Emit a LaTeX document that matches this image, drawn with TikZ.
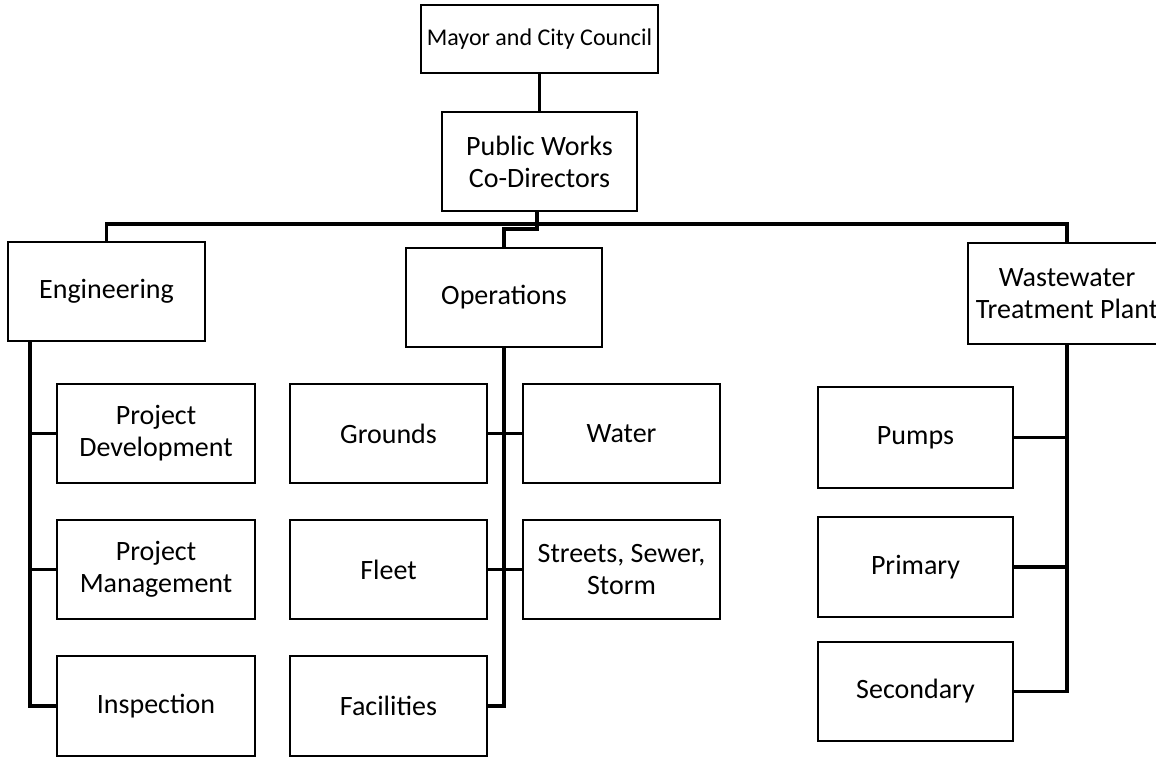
\documentclass[tikz,border=0pt]{standalone}
\usepackage{fontspec}
\setmainfont{Carlito}
\usetikzlibrary{calc}
\begin{document}
\begin{tikzpicture}[x=1pt,y=-1pt,
  box/.style={draw=black,line width=1.8pt,fill=white,align=center,inner sep=0pt,
    minimum width=197pt,minimum height=99pt,font=\fontsize{28}{32}\selectfont},
  conn/.style={draw=black,line width=3.5pt,line cap=rect}]
\clip (0,0) rectangle (1156,757);
\fill[white] (0,0) rectangle (1156,757);
% nodes
\node[box,minimum width=237pt,minimum height=68pt,font=\fontsize{24}{26}\selectfont] (mayor) at (539.5,39) {Mayor and City Council};
\node[box,minimum width=195pt] (pw) at (539.5,161.5) {Public Works\\Co-Directors};
\node[box] (eng) at (106.5,291.5) {Engineering};
\node[box,minimum width=196pt] (ops) at (504,297.5) {Operations};
\node[box,minimum width=198pt,minimum height=101pt] (wtp) at (1067,293.5) {Wastewater\\Treatment Plant};
\node[box,minimum width=198pt] (pd) at (156,433.5) {Project\\Development};
\node[box,minimum width=198pt] (pm) at (156,569.5) {Project\\Management};
\node[box,minimum width=198pt,minimum height=100pt] (insp) at (156,706) {Inspection};
\node[box] (grounds) at (388.5,433.5) {Grounds};
\node[box] (fleet) at (388.5,569.5) {Fleet};
\node[box,minimum height=100pt] (fac) at (388.5,706) {Facilities};
\node[box] (water) at (621.5,433.5) {Water};
\node[box] (streets) at (621.5,569.5) {Streets, Sewer,\\Storm};
\node[box,minimum width=195pt,minimum height=101pt] (pumps) at (915.5,437.5) {Pumps};
\node[box,minimum width=195pt,minimum height=100pt] (primary) at (915.5,567) {Primary};
\node[box,minimum width=195pt] (secondary) at (915.5,691.5) {Secondary};
% top connectors
\draw[conn] (mayor.south) -- (pw.north);
\coordinate (bus) at ($(pw.south)+(-2.5,12)$);
\coordinate (bus2) at ($(pw.south)+(-2.5,17)$);
\draw[conn] (pw.south -| bus) -- (bus2);
\draw[conn] (bus) -| (eng.north);
\draw[conn] (bus) -| (wtp.north);
\draw[conn] (bus2) -| (ops.north);
% engineering spine
\coordinate (etop) at ($(eng.south west)+(23,0)$);
\draw[conn] (etop) |- (insp.west);
\draw[conn] (etop |- pd.west) -- (pd.west);
\draw[conn] (etop |- pm.west) -- (pm.west);
% operations spine
\draw[conn] (ops.south) |- (fac.east);
\draw[conn] (grounds.east) -- (water.west);
\draw[conn] (fleet.east) -- (streets.west);
% wastewater spine
\draw[conn] (wtp.south) |- (secondary.east);
\draw[conn] (pumps.east) -- (pumps.east -| wtp.south);
\draw[conn] (primary.east) -- (primary.east -| wtp.south);
\end{tikzpicture}
\end{document}
